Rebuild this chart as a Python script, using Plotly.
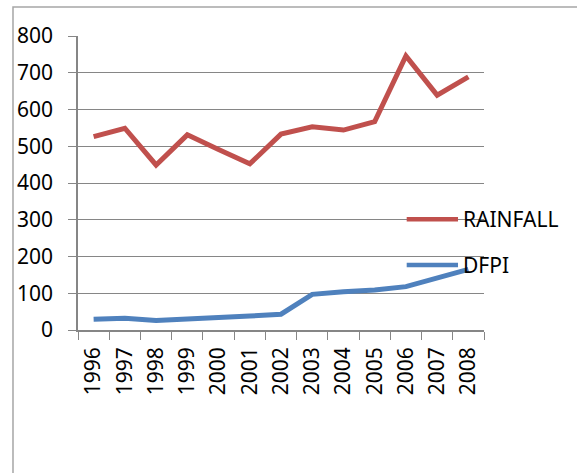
import plotly.graph_objects as go

years = ["1996", "1997", "1998", "1999", "2000", "2001", "2002",
         "2003", "2004", "2005", "2006", "2007", "2008"]
rainfall = [526, 549, 449, 531, 491, 452, 533, 553, 544, 567, 746, 639, 689]
dfpi = [29, 32, 26, 29, 34, 38, 43, 97, 104, 109, 118, 141, 165]
y_ticks = [0, 100, 200, 300, 400, 500, 600, 700, 800]

RED = "#C0504D"
BLUE = "#4F81BD"
GRID = "#868686"
FONT = dict(family="Noto Sans", size=21, color="#000000")

fig = go.Figure()
fig.add_trace(go.Scatter(x=years, y=rainfall, mode="lines", name="RAINFALL",
                         line=dict(color=RED, width=5)))
fig.add_trace(go.Scatter(x=years, y=dfpi, mode="lines", name="DFPI",
                         line=dict(color=BLUE, width=5)))

# legend drawn inside the plot area, to the right of the lines
legend_rows = [("RAINFALL", RED, 0.3765), ("DFPI", BLUE, 0.221)]
shapes = []
annotations = []
for label, color, yp in legend_rows:
    shapes.append(dict(type="line", xref="paper", yref="paper",
                       x0=0.8096, x1=0.936, y0=yp, y1=yp,
                       line=dict(color=color, width=4.5)))
    annotations.append(dict(text=label, xref="paper", yref="paper",
                            x=0.944, y=yp, xanchor="left", yanchor="middle",
                            showarrow=False, font=FONT))

# chart frame
shapes.append(dict(type="rect", xref="paper", yref="paper",
                   x0=-0.1601, x1=1.3, y0=-0.6, y1=1.0986,
                   line=dict(color="#a6a6a6", width=1.5), layer="below"))

fig.update_layout(
    width=577, height=473,
    margin=dict(l=78, r=93, t=36, b=143),
    paper_bgcolor="white", plot_bgcolor="white",
    showlegend=False,
    font=FONT,
    shapes=shapes,
    annotations=annotations,
    xaxis=dict(
        type="category", tickangle=-90, tickson="boundaries",
        ticks="outside", ticklen=8, tickcolor=GRID,
        showline=True, linecolor=GRID, linewidth=1.5,
        showgrid=False, tickfont=FONT, ticklabelstandoff=7,
        range=[-0.5, 12.5],
    ),
    yaxis=dict(
        range=[0, 800], tickvals=y_ticks, ticks="outside", ticklen=8,
        tickcolor=GRID, showline=True, linecolor=GRID, linewidth=1.5,
        showgrid=True, gridcolor=GRID, gridwidth=1, zeroline=False,
        tickfont=FONT, ticklabelstandoff=11,
    ),
)

fig.write_html("out.html")
